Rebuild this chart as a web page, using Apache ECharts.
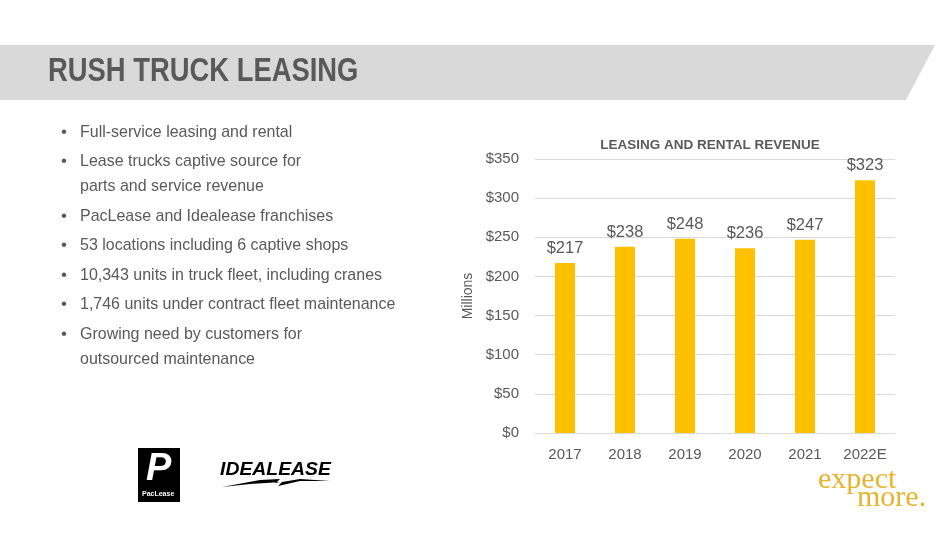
<!DOCTYPE html>
<html>
<head>
<meta charset="utf-8">
<script src="https://cdn.jsdelivr.net/npm/echarts@6/dist/echarts.min.js"></script>
<style>
  html, body { margin: 0; padding: 0; background: #fff; }
  #chart { width: 950px; height: 534px; }
</style>
</head>
<body>
<div id="chart"></div>
<script>
// 数据
const years = ['2017', '2018', '2019', '2020', '2021', '2022E']
const revenue = [217, 238, 248, 236, 247, 323]
const yTicks = [0, 50, 100, 150, 200, 250, 300, 350]

const pageTitle = 'RUSH TRUCK LEASING'
const chartTitle = 'LEASING AND RENTAL REVENUE'
const bullets = [
  ['Full-service leasing and rental'],
  ['Lease trucks captive source for', 'parts and service revenue'],
  ['PacLease and Idealease franchises'],
  ['53 locations including 6 captive shops'],
  ['10,343 units in truck fleet, including cranes'],
  ['1,746 units under contract fleet maintenance'],
  ['Growing need by customers for', 'outsourced maintenance']
]

const GRAY = '#595959'
const FONT = '"Liberation Sans", Arial, sans-serif'

// 压窄的文字（原图字体偏窄）
function narrowText (x, y, text, font, fill, sx) {
  return {
    type: 'text', x: x, y: y, scaleX: sx,
    style: { text: text, font: font, fill: fill, verticalAlign: 'middle' }
  }
}

// 左侧要点文字
function bulletGraphics () {
  const out = []
  let y = 132
  bullets.forEach(item => {
    out.push(narrowText(61, y, '•', '17px ' + FONT, GRAY, 1))
    item.forEach((line, i) => {
      out.push(narrowText(80, y + i * 25, line, '17px ' + FONT, GRAY, 0.94))
    })
    y += 29.5 + (item.length - 1) * 25
  })
  return out
}

const chart = echarts.init(document.getElementById('chart'))

chart.setOption({
  animation: false,
  title: {
    text: chartTitle,
    left: 705,
    top: 133,
    textAlign: 'center',
    textStyle: { fontFamily: FONT, fontSize: 13.5, fontWeight: 'bold', color: GRAY }
  },
  grid: { left: 535, right: 55, top: 159, bottom: 101 },
  xAxis: {
    type: 'category',
    data: years,
    axisTick: { show: false },
    axisLine: { lineStyle: { color: '#d9d9d9' } },
    axisLabel: { color: GRAY, fontSize: 15, fontFamily: FONT, margin: 14 }
  },
  yAxis: {
    type: 'value',
    min: yTicks[0],
    max: yTicks[yTicks.length - 1],
    interval: 50,
    name: 'Millions',
    nameLocation: 'middle',
    nameRotate: 90,
    nameGap: 60,
    nameTextStyle: { color: GRAY, fontSize: 14, fontFamily: FONT },
    axisLine: { show: false },
    axisTick: { show: false },
    axisLabel: { color: GRAY, fontSize: 15, fontFamily: FONT, margin: 16, formatter: '${value}' },
    splitLine: { lineStyle: { color: '#d9d9d9' } }
  },
  series: [{
    type: 'bar',
    data: revenue,
    barWidth: 20,
    itemStyle: { color: '#FFC000' },
    label: {
      show: true,
      position: 'top',
      distance: 6,
      formatter: '${c}',
      color: GRAY,
      fontSize: 16.5,
      fontFamily: FONT
    }
  }],
  graphic: [
    // 顶部灰色横幅
    {
      type: 'polygon',
      shape: { points: [[0, 45], [935, 45], [906, 100], [0, 100]] },
      style: { fill: '#d9d9d9' }
    },
    narrowText(48, 72, pageTitle, 'bold 33px ' + FONT, GRAY, 0.83),
    ...bulletGraphics(),
    // PacLease 标志
    {
      type: 'group', x: 138, y: 448,
      children: [
        { type: 'rect', shape: { x: 0, y: 0, width: 42, height: 54 }, style: { fill: '#000' } },
        { type: 'text', x: 8, y: 3, style: { text: 'P', font: 'italic bold 38px ' + FONT, fill: '#fff' } },
        { type: 'text', x: 4, y: 43, style: { text: 'PacLease', font: 'bold 7px ' + FONT, fill: '#fff' } }
      ]
    },
    // Idealease 标志
    {
      type: 'group', x: 220, y: 460,
      children: [
        { type: 'text', x: 0, y: 0, scaleX: 1.02, style: { text: 'IDEALEASE', font: 'italic 900 19px ' + FONT, fill: '#000' } },
        {
          type: 'polygon',
          shape: { points: [[2, 27], [40, 20], [60, 19], [56, 23], [80, 19], [110, 21], [80, 21], [58, 26], [62, 22], [30, 24]] },
          style: { fill: '#000' }
        }
      ]
    },
    // expect more.
    {
      type: 'text', x: 818, y: 465,
      style: { text: 'expect', font: '30px "Liberation Serif", "DejaVu Serif", serif', fill: '#E6B42E' }
    },
    {
      type: 'text', x: 857, y: 483,
      style: { text: 'more.', font: '30px "Liberation Serif", "DejaVu Serif", serif', fill: '#E6B42E' }
    }
  ]
})
</script>
</body>
</html>
